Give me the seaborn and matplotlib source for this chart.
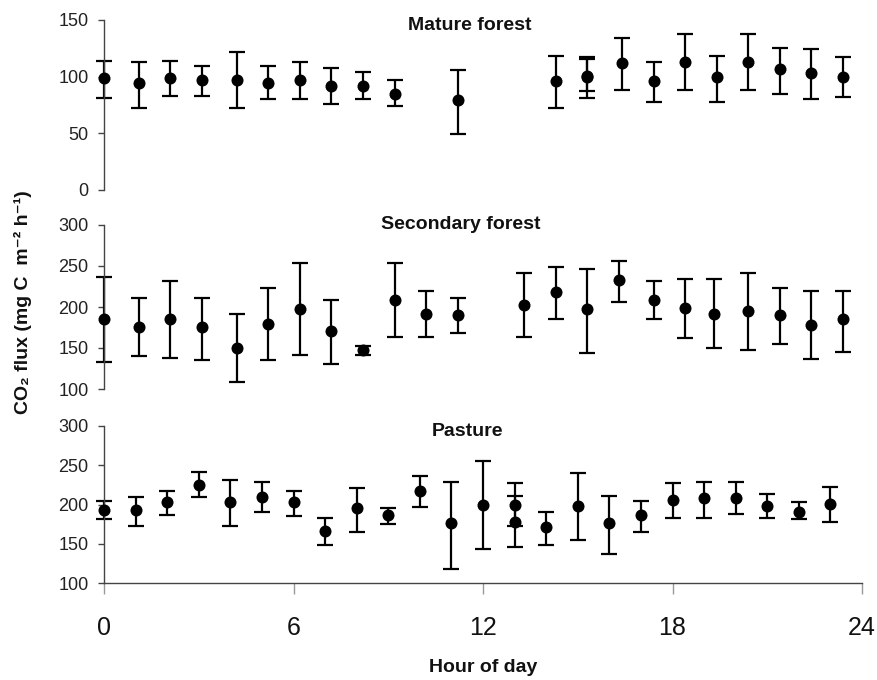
import numpy as np
import pandas as pd
import matplotlib
matplotlib.use("Agg")
import matplotlib.pyplot as plt
import seaborn as sns

# ---------------- data ----------------
mature_hour = [0.0, 1.1, 2.1, 3.1, 4.2, 5.2, 6.2, 7.2, 8.2, 9.2, 11.2,
               14.3, 15.3, 15.3, 16.4, 17.4, 18.4, 19.4, 20.4, 21.4, 22.4, 23.4]
mature_mean = [99, 94, 99, 97, 97, 94, 97, 92, 92, 85, 79,
               96, 101, 100, 112, 96, 113, 100, 113, 107, 103, 100]
mature_hi = [114, 113, 114, 109, 122, 109, 113, 108, 104, 97, 106,
             118, 117, 116, 134, 113, 138, 118, 138, 125, 124, 117]
mature_lo = [81, 72, 83, 83, 72, 80, 80, 76, 80, 74, 49,
             72, 87, 81, 88, 78, 88, 78, 88, 85, 80, 82]

second_hour = [0.0, 1.1, 2.1, 3.1, 4.2, 5.2, 6.2, 7.2, 8.2, 9.2, 10.2, 11.2,
               13.3, 14.3, 15.3, 16.3, 17.4, 18.4, 19.3, 20.4, 21.4, 22.4, 23.4]
second_mean = [185, 175, 185, 175, 150, 179, 198, 171, 147, 209, 192, 190,
               203, 218, 197, 233, 209, 199, 192, 195, 190, 178, 185]
second_hi = [237, 211, 232, 211, 191, 223, 254, 209, 152, 254, 220, 211,
             241, 249, 246, 256, 232, 234, 234, 241, 223, 220, 220]
second_lo = [133, 140, 138, 135, 108, 135, 141, 131, 141, 164, 164, 168,
             164, 185, 144, 206, 185, 162, 150, 147, 155, 136, 145]

past_hour = [0, 1, 2, 3, 4, 5, 6, 7, 8, 9, 10, 11, 12, 13, 13,
             14, 15, 16, 17, 18, 19, 20, 21, 22, 23]
past_mean = [193, 193, 203, 225, 203, 210, 203, 166, 195, 186, 217, 176, 200, 200, 178,
             171, 198, 176, 186, 206, 208, 208, 198, 191, 201]
past_hi = [205, 209, 217, 241, 231, 229, 217, 183, 221, 195, 236, 229, 256, 227, 211,
           190, 240, 211, 205, 227, 229, 229, 214, 203, 222]
past_lo = [182, 172, 187, 209, 172, 190, 185, 148, 165, 175, 197, 118, 143, 172, 146,
           148, 155, 137, 165, 183, 183, 188, 183, 181, 178]

panel_titles = ["Mature forest", "Secondary forest", "Pasture"]
ylims = [(0, 150), (100, 300), (100, 300)]
yticks = [[0, 50, 100, 150], [100, 150, 200, 250, 300], [100, 150, 200, 250, 300]]
xticks = [0, 6, 12, 18, 24]

# ---------------- figure ----------------
sns.set_theme(style="white")
plt.rcParams["font.family"] = ["Liberation Sans", "DejaVu Sans"]

fig = plt.figure(figsize=(8.77, 6.8), dpi=100)
L, W = 104 / 877, (862 - 104) / 877
boxes = [(1 - 190 / 680, 170 / 680), (1 - 389 / 680, 164 / 680), (1 - 583 / 680, 157 / 680)]
axes = [fig.add_axes([L, b, W, h]) for b, h in boxes]

series = [
    (mature_hour, mature_mean, mature_hi, mature_lo),
    (second_hour, second_mean, second_hi, second_lo),
    (past_hour, past_mean, past_hi, past_lo),
]
spine_col = "#444444"
title_y = [1 - 25 / 680, 1 - 225 / 680, 1 - 432 / 680]
title_x = [470 / 877, 461 / 877, 467 / 877]

for i, (ax, (hx, m, hi, lo)) in enumerate(zip(axes, series)):
    df = pd.DataFrame({"hour": hx, "flux": m, "hi": hi, "lo": lo})
    yerr = np.vstack([df["flux"] - df["lo"], df["hi"] - df["flux"]])
    ax.errorbar(df["hour"], df["flux"], yerr=yerr, fmt="none", ecolor="black",
                elinewidth=1.6, capsize=5.5, capthick=1.6, zorder=2, clip_on=False)
    sns.scatterplot(data=df, x="hour", y="flux", ax=ax, color="black", s=75,
                    edgecolor="black", linewidth=0, zorder=3, clip_on=False, legend=False)
    ax.set_xlim(0, 24)
    ax.set_ylim(*ylims[i])
    ax.set_yticks(yticks[i])
    ax.set_xlabel("")
    ax.set_ylabel("")
    ax.patch.set_alpha(0)
    for s in ["top", "right"]:
        ax.spines[s].set_visible(False)
    ax.spines["left"].set_color(spine_col)
    ax.spines["left"].set_linewidth(1.0)
    ax.tick_params(axis="y", direction="out", length=4, width=1.0, color=spine_col,
                   labelsize=13, pad=7, labelcolor="#222222", left=True)
    if i < 2:
        ax.spines["bottom"].set_visible(False)
        ax.set_xticks([])
    else:
        ax.spines["bottom"].set_color(spine_col)
        ax.spines["bottom"].set_linewidth(1.0)
        ax.set_xticks(xticks)
        ax.tick_params(axis="x", direction="out", length=8, width=1.0, color="#999999",
                       labelsize=18, pad=16, labelcolor="#111111", bottom=True)
    fig.text(title_x[i], title_y[i], panel_titles[i], ha="center", va="center",
             fontsize=14, fontweight="bold", color="#111111")

fig.text(483 / 877, 1 - 667 / 680, "Hour of day", ha="center", va="center",
         fontsize=14, fontweight="bold", color="#111111")
fig.text(23 / 877, 1 - 302 / 680, "CO\u2082 flux (mg C  m\u207b\u00b2 h\u207b\u00b9)",
         rotation=90, ha="center", va="center", fontsize=14, fontweight="bold",
         color="#111111")

fig.savefig("out.png", dpi=100)
